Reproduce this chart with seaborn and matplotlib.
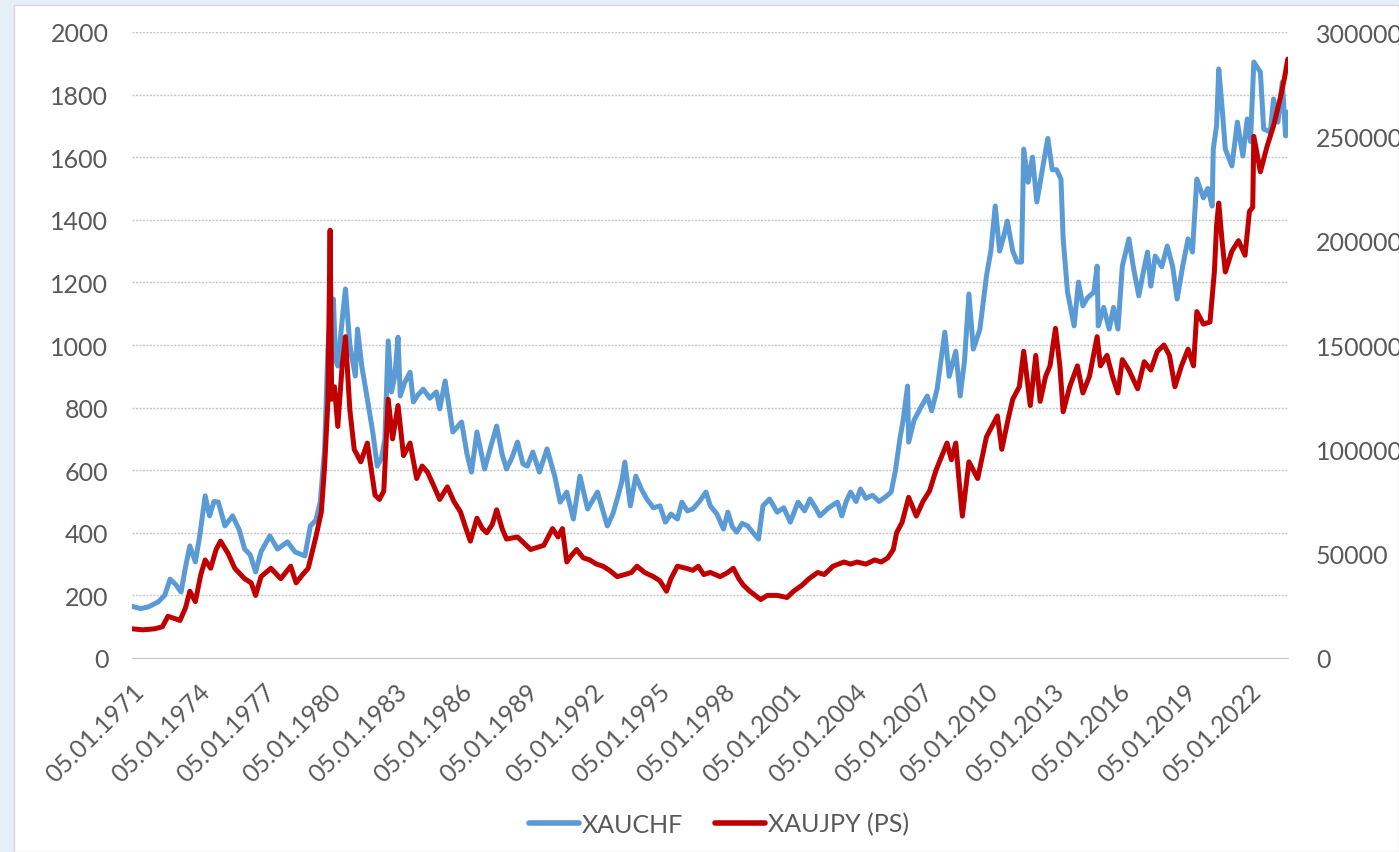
import matplotlib
matplotlib.use("Agg")
import matplotlib.pyplot as plt
import matplotlib.patches as mpatches
from matplotlib.lines import Line2D
import seaborn as sns
import pandas as pd

# XAUCHF (left axis), decimal years
chf_years = [
    1971.01, 1971.4, 1971.75, 1972.2, 1972.5, 1972.75, 1973.0, 1973.25, 1973.45, 1973.65,
    1973.9, 1974.1, 1974.35, 1974.55, 1974.75, 1974.95, 1975.25, 1975.6, 1975.9, 1976.15,
    1976.4, 1976.65, 1976.9, 1977.3, 1977.65, 1978.1, 1978.45, 1978.9, 1979.15, 1979.4,
    1979.6, 1979.8, 1979.95, 1980.05, 1980.2, 1980.3, 1980.4, 1980.6, 1980.75, 1980.95,
    1981.2, 1981.3, 1981.5, 1981.75, 1982.0, 1982.2, 1982.4, 1982.55, 1982.7, 1982.85,
    1983.0, 1983.15, 1983.25, 1983.45, 1983.7, 1983.85, 1984.05, 1984.3, 1984.6, 1984.9,
    1985.05, 1985.3, 1985.65, 1986.05, 1986.3, 1986.5, 1986.75, 1987.1, 1987.4, 1987.65,
    1987.9, 1988.1, 1988.35, 1988.6, 1988.85, 1989.05, 1989.3, 1989.6, 1989.95, 1990.3,
    1990.55, 1990.85, 1991.15, 1991.45, 1991.8, 1992.0, 1992.25, 1992.5, 1992.7, 1992.95,
    1993.15, 1993.35, 1993.5, 1993.75, 1994.0, 1994.25, 1994.5, 1994.8, 1995.1, 1995.35,
    1995.6, 1995.9, 1996.1, 1996.35, 1996.6, 1996.9, 1997.2, 1997.4, 1997.7, 1998.0,
    1998.2, 1998.4, 1998.6, 1998.85, 1999.1, 1999.35, 1999.6, 1999.8, 2000.1, 2000.45,
    2000.75, 2001.05, 2001.4, 2001.7, 2001.95, 2002.2, 2002.4, 2002.8, 2003.2, 2003.4,
    2003.6, 2003.8, 2004.05, 2004.25, 2004.5, 2004.8, 2005.1, 2005.4, 2005.65, 2005.85,
    2006.05, 2006.2, 2006.4, 2006.45, 2006.7, 2007.0, 2007.3, 2007.5, 2007.75, 2008.1,
    2008.3, 2008.6, 2008.8, 2009.0, 2009.2, 2009.4, 2009.7, 2010.0, 2010.2, 2010.4,
    2010.6, 2010.8, 2010.95, 2011.2, 2011.4, 2011.6, 2011.7, 2011.9, 2012.1, 2012.3,
    2012.5, 2012.8, 2013.0, 2013.2, 2013.4, 2013.5, 2013.7, 2014.0, 2014.2, 2014.4,
    2014.6, 2014.9, 2015.05, 2015.1, 2015.35, 2015.6, 2015.8, 2016.0, 2016.2, 2016.5,
    2016.7, 2016.95, 2017.15, 2017.35, 2017.5, 2017.7, 2018.0, 2018.25, 2018.5, 2018.7,
    2018.95, 2019.2, 2019.4, 2019.6, 2019.9, 2020.1, 2020.3, 2020.35, 2020.5, 2020.6,
    2020.75, 2020.9, 2021.2, 2021.45, 2021.7, 2021.9, 2022.05, 2022.2, 2022.5, 2022.65,
    2022.95, 2023.1, 2023.3, 2023.5, 2023.65, 2023.75,
]
chf_values = [
    165, 158, 163, 179, 200, 252, 235, 211, 290, 358,
    307, 390, 518, 454, 500, 498, 422, 454, 410, 348,
    330, 275, 340, 390, 348, 371, 339, 326, 422, 440,
    498, 668, 987, 1080, 1147, 950, 933, 1080, 1179, 1000,
    901, 1051, 930, 827, 720, 613, 640, 700, 1013, 850,
    900, 1025, 837, 880, 913, 818, 840, 859, 830, 850,
    796, 885, 722, 754, 650, 594, 722, 604, 680, 741,
    650, 604, 640, 690, 620, 613, 658, 594, 668, 581,
    498, 530, 444, 581, 476, 500, 530, 470, 422, 460,
    508, 560, 626, 486, 581, 540, 508, 480, 486, 434,
    460, 444, 498, 470, 476, 500, 530, 486, 460, 412,
    466, 420, 402, 430, 422, 400, 380, 486, 508, 466,
    480, 434, 498, 470, 508, 480, 454, 480, 498, 454,
    500, 530, 500, 540, 510, 520, 500, 515, 530, 600,
    700, 760, 869, 690, 760, 800, 837, 790, 860, 1041,
    900, 980, 837, 950, 1163, 987, 1050, 1220, 1300, 1444,
    1300, 1350, 1396, 1300, 1265, 1265, 1626, 1520, 1600, 1457,
    1540, 1660, 1560, 1560, 1530, 1339, 1169, 1061, 1201, 1125,
    1150, 1169, 1252, 1061, 1120, 1051, 1120, 1051, 1252, 1339,
    1250, 1157, 1230, 1297, 1188, 1284, 1250, 1316, 1250, 1147,
    1250, 1339, 1297, 1530, 1470, 1500, 1444, 1626, 1700, 1882,
    1760, 1626, 1572, 1712, 1604, 1722, 1650, 1904, 1872, 1690,
    1680, 1786, 1712, 1840, 1668, 1744,
]

# XAUJPY (right axis, "PS")
jpy_years = [
    1971.01, 1971.5, 1972.05, 1972.4, 1972.65, 1973.2, 1973.45, 1973.65, 1973.9, 1974.15,
    1974.35, 1974.6, 1974.85, 1975.05, 1975.4, 1975.7, 1976.15, 1976.45, 1976.65, 1976.9,
    1977.35, 1977.8, 1978.25, 1978.5, 1978.8, 1979.05, 1979.4, 1979.65, 1979.8, 1979.95,
    1980.05, 1980.12, 1980.25, 1980.4, 1980.6, 1980.75, 1980.95, 1981.15, 1981.45, 1981.75,
    1982.1, 1982.3, 1982.5, 1982.7, 1982.9, 1983.15, 1983.4, 1983.7, 1984.0, 1984.25,
    1984.5, 1984.8, 1985.05, 1985.4, 1985.7, 1986.0, 1986.25, 1986.45, 1986.75, 1987.0,
    1987.2, 1987.45, 1987.65, 1987.9, 1988.1, 1988.6, 1988.9, 1989.2, 1989.5, 1989.8,
    1990.2, 1990.45, 1990.65, 1990.85, 1991.05, 1991.3, 1991.6, 1991.9, 1992.2, 1992.5,
    1992.8, 1993.15, 1993.5, 1993.8, 1994.05, 1994.4, 1994.8, 1995.1, 1995.4, 1995.6,
    1995.9, 1996.3, 1996.6, 1996.85, 1997.1, 1997.4, 1997.85, 1998.2, 1998.45, 1998.7,
    1998.9, 1999.2, 1999.45, 1999.7, 2000.0, 2000.45, 2000.9, 2001.2, 2001.6, 2001.9,
    2002.3, 2002.6, 2003.0, 2003.5, 2003.8, 2004.1, 2004.5, 2004.9, 2005.2, 2005.5,
    2005.75, 2005.9, 2006.15, 2006.45, 2006.8, 2007.1, 2007.4, 2007.7, 2008.2, 2008.4,
    2008.6, 2008.75, 2008.9, 2009.2, 2009.6, 2010.0, 2010.5, 2010.7, 2011.0, 2011.2,
    2011.5, 2011.7, 2012.0, 2012.25, 2012.45, 2012.7, 2012.9, 2013.15, 2013.35, 2013.5,
    2013.8, 2014.15, 2014.4, 2014.7, 2015.05, 2015.2, 2015.5, 2015.75, 2016.0, 2016.2,
    2016.5, 2016.9, 2017.2, 2017.5, 2017.8, 2018.1, 2018.35, 2018.6, 2018.9, 2019.2,
    2019.45, 2019.6, 2019.9, 2020.2, 2020.4, 2020.5, 2020.6, 2020.75, 2020.9, 2021.2,
    2021.5, 2021.8, 2022.0, 2022.15, 2022.2, 2022.5, 2022.8, 2023.1, 2023.4, 2023.6,
    2023.75,
]
jpy_values = [
    14000, 13500, 14000, 15000, 20000, 18000, 24000, 32000, 27000, 40000,
    47000, 43000, 52000, 56000, 50000, 43000, 38000, 36000, 30000, 39000,
    43000, 38000, 44000, 36000, 40000, 43000, 58000, 70000, 92000, 123000,
    205000, 124000, 130000, 111000, 140000, 154000, 119000, 100000, 94000, 103000,
    78000, 76000, 80000, 124000, 105000, 121000, 97000, 103000, 86000, 92000,
    89000, 82000, 76000, 82000, 75000, 70000, 62000, 56000, 67000, 62000,
    60000, 64000, 71000, 62000, 57000, 58000, 55000, 52000, 53000, 54000,
    62000, 58000, 62000, 46000, 49000, 52000, 48000, 47000, 45000, 44000,
    42000, 39000, 40000, 41000, 44000, 41000, 39000, 37000, 32000, 38000,
    44000, 43000, 42000, 44000, 40000, 41000, 39000, 41000, 43000, 38000,
    35000, 32000, 30000, 28000, 30000, 30000, 29000, 32000, 35000, 38000,
    41000, 40000, 44000, 46000, 45000, 46000, 45000, 47000, 46000, 48000,
    52000, 60000, 65000, 77000, 68000, 75000, 80000, 90000, 103000, 95000,
    103000, 85000, 68000, 94000, 86000, 106000, 116000, 100000, 115000, 124000,
    130000, 147000, 121000, 145000, 123000, 135000, 140000, 158000, 140000, 118000,
    130000, 140000, 127000, 135000, 154000, 140000, 145000, 135000, 127000, 143000,
    138000, 129000, 142000, 138000, 147000, 150000, 145000, 130000, 140000, 148000,
    140000, 166000, 160000, 161000, 185000, 207000, 218000, 200000, 185000, 195000,
    200000, 193000, 214000, 216000, 250000, 233000, 245000, 255000, 268000, 278000,
    287000,
]

tick_years = list(range(1971, 2023, 3))
tick_labels = [f"05.01.{y}" for y in tick_years]

chf = pd.DataFrame({"year": chf_years, "value": chf_values})
jpy = pd.DataFrame({"year": jpy_years, "value": jpy_values})

blue = "#5B9BD5"
red = "#C00000"
txt = "#595959"

sns.set_style("white")
plt.rcParams["font.family"] = ["Lato", "DejaVu Sans"]

fig = plt.figure(figsize=(13.99, 8.53), dpi=100, facecolor="#e4eff6")
# white chart area of the screenshot, behind the axes
fig.patches.append(mpatches.Rectangle((14 / 1399, 0), 1 - 14 / 1399, 1 - 6 / 853,
                                      transform=fig.transFigure, facecolor="white",
                                      edgecolor="#d9d9d9", linewidth=1, zorder=-10))

ax = fig.add_axes([132 / 1399, 1 - 659 / 853, (1288 - 132) / 1399, (659 - 33) / 853])
ax.set_facecolor("none")
ax2 = ax.twinx()
ax2.set_facecolor("none")

sns.lineplot(data=chf, x="year", y="value", ax=ax, color=blue, linewidth=3.6, zorder=3)
sns.lineplot(data=jpy, x="year", y="value", ax=ax2, color=red, linewidth=3.6, zorder=3)

ax.set_xlim(1971.01, 2023.76)
ax.set_ylim(0, 2000)
ax2.set_ylim(0, 300000)
ax.set_yticks(range(0, 2001, 200))
ax2.set_yticks(range(0, 300001, 50000))
ax2.set_yticklabels([str(v) for v in range(0, 300001, 50000)])

ax.set_xticks([y + 0.01 for y in tick_years])
ax.set_xticklabels(tick_labels)
for lab in ax.get_xticklabels():
    lab.set_rotation(45)
    lab.set_ha("right")
    lab.set_rotation_mode("anchor")

ax.yaxis.grid(True, color="#c8c8c8", linestyle=(0, (1.5, 1)), linewidth=1)
ax.set_axisbelow(True)
for a in (ax, ax2):
    for s in a.spines.values():
        s.set_visible(False)
    a.set_xlabel("")
    a.set_ylabel("")
ax.spines["bottom"].set_visible(True)
ax.spines["bottom"].set_color("#c8c8c8")
ax.spines["bottom"].set_linestyle((0, (1.5, 1)))

ax.tick_params(axis="x", length=9, width=1, color="#c8c8c8", labelsize=18,
               labelcolor=txt, pad=6)
ax.tick_params(axis="y", length=0, labelsize=18, labelcolor=txt, pad=17)
ax2.tick_params(axis="y", length=0, labelsize=18, labelcolor=txt, pad=20)

handles = [Line2D([], [], color=blue, linewidth=4),
           Line2D([], [], color=red, linewidth=4)]
fig.legend(handles, ["XAUCHF", "XAUJPY (PS)"], loc="center",
           bbox_to_anchor=(719 / 1399, 1 - 825 / 853), ncol=2, frameon=False,
           fontsize=18, labelcolor=txt, handlelength=2.0, handletextpad=0.1,
           columnspacing=1.3)

fig.savefig("out.png", dpi=100, facecolor=fig.get_facecolor())
